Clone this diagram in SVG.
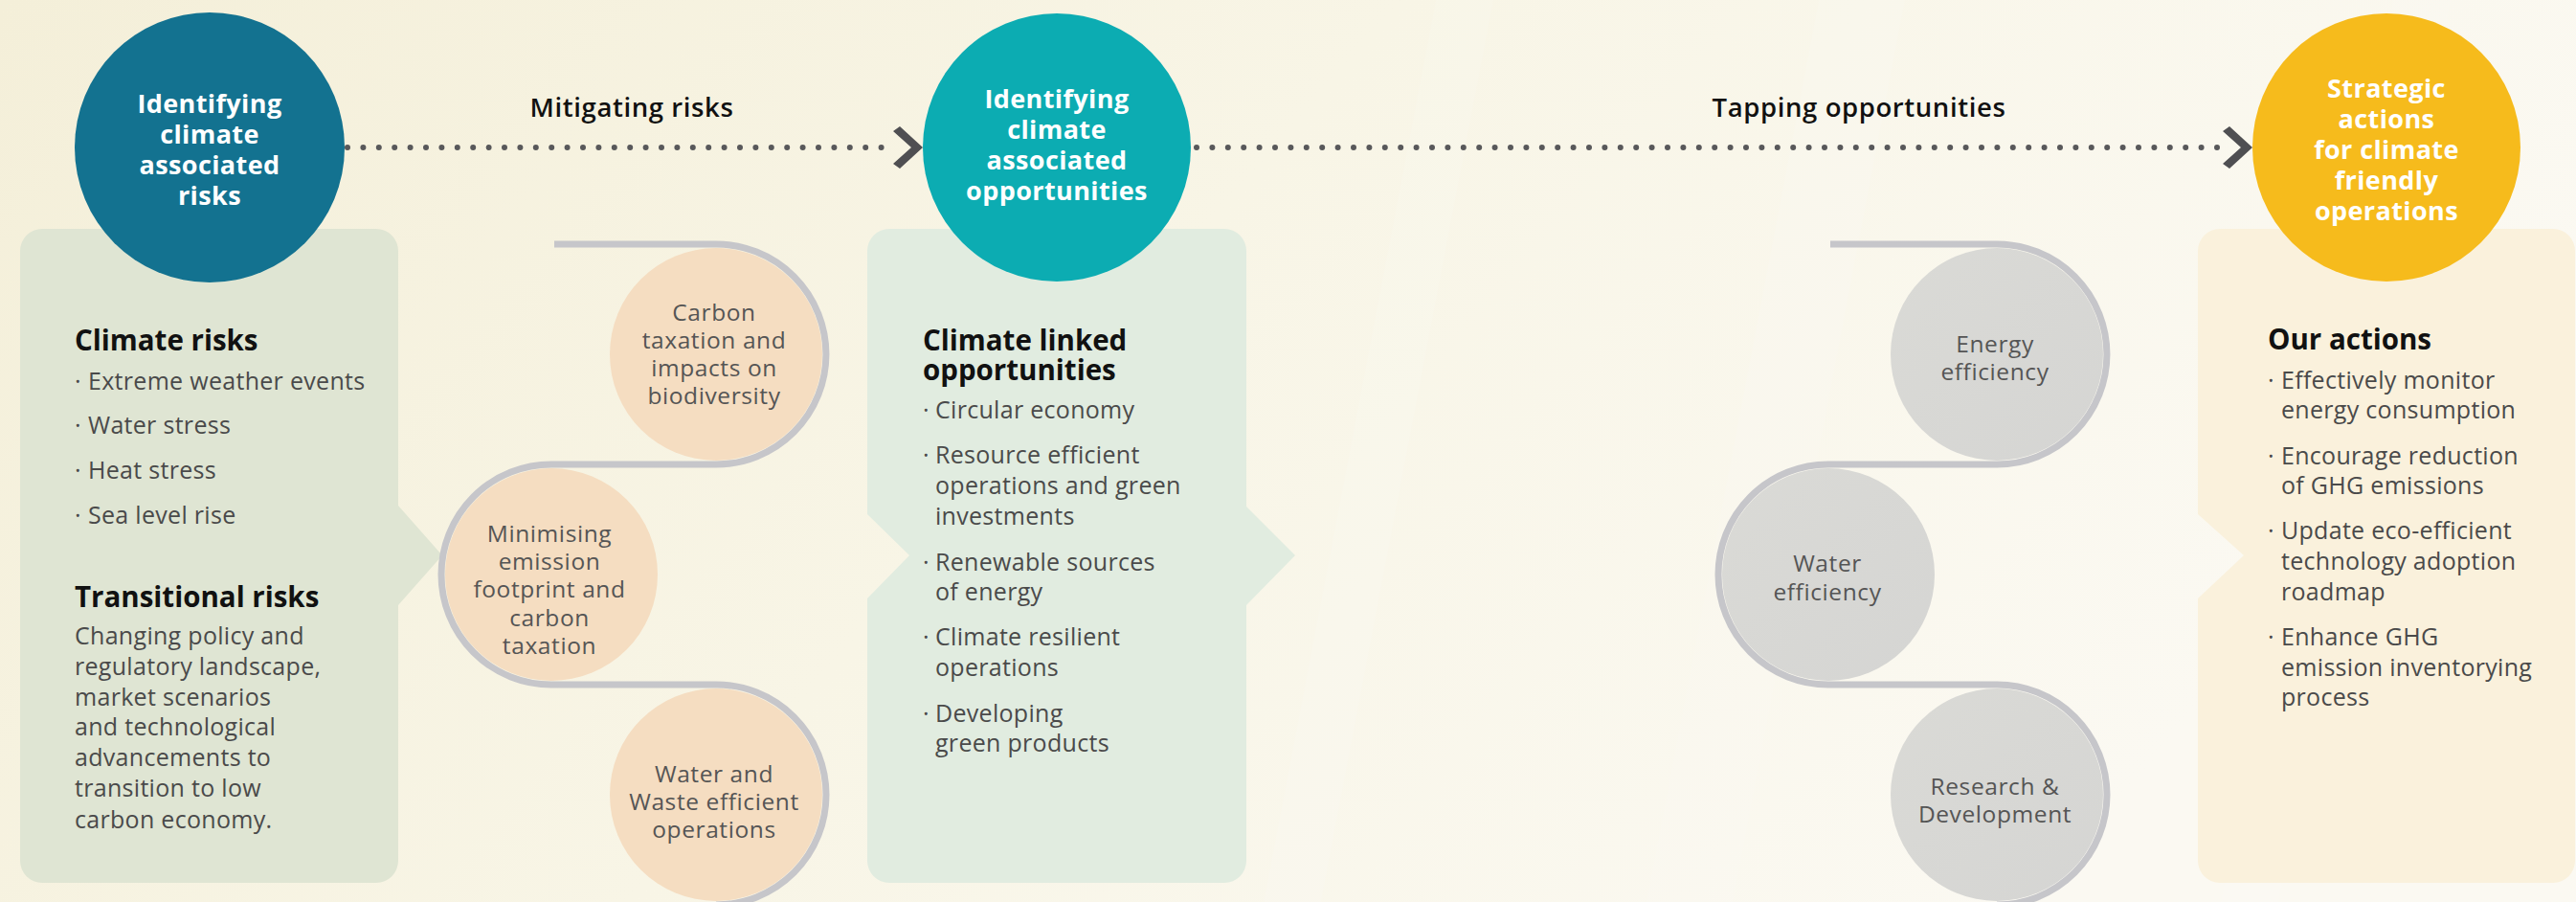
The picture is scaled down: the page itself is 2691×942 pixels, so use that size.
<svg xmlns="http://www.w3.org/2000/svg" width="2691" height="942" viewBox="0 0 2691 942">
<defs>
<linearGradient id="bg" x1="0" y1="0" x2="1" y2="0.3">
<stop offset="0" stop-color="#f4efd9"/>
<stop offset="0.5" stop-color="#f8f5e6"/>
<stop offset="1" stop-color="#fbf9f2"/>
</linearGradient>
<linearGradient id="grayfill" x1="0" y1="0" x2="1" y2="1">
<stop offset="0" stop-color="#dadad6"/>
<stop offset="1" stop-color="#d5d5d3"/>
</linearGradient>
<path id="chev" d="M -31 -17 L -24 -22 L 0 0 L -24 22 L -31 17 L -12 0 Z"/>
</defs>
<style>
.body{font-family:"Open Sans","Liberation Sans",sans-serif;font-size:25px;fill:#4a4a4a;letter-spacing:0.3px}
.head{font-family:"Open Sans","Liberation Sans",sans-serif;font-size:29.5px;font-weight:700;fill:#111}
.ctitle{font-family:"Open Sans","Liberation Sans",sans-serif;font-size:27px;font-weight:700;fill:#ffffff;text-anchor:middle;letter-spacing:0.4px}
.ctext{font-family:"Open Sans","Liberation Sans",sans-serif;font-size:24.5px;fill:#555555;text-anchor:middle;letter-spacing:0.6px}
.label{font-family:"Open Sans","Liberation Sans",sans-serif;font-size:27.5px;font-weight:600;fill:#111;text-anchor:middle;letter-spacing:0.6px}
.track{fill:none;stroke:#c6c6ca;stroke-width:7}
.peach{fill:#f5ddc1}
.gray{fill:url(#grayfill)}
.dots{stroke:#58585a;stroke-width:6;stroke-linecap:round;stroke-dasharray:0 16.4;fill:none}
.chev{fill:#4f4f52}
</style>
<rect x="0" y="0" width="2691" height="942" fill="url(#bg)"/>
<g opacity="0.1" fill="#ffffff">
<polygon points="1500,0 1560,0 1380,942 1320,942"/>
<polygon points="1900,0 1990,0 1810,942 1720,942"/>
<polygon points="2500,0 2560,0 2380,942 2320,942"/>
</g>

<g id="box-risks">
<path d="M 44 239 H 393 A 23 23 0 0 1 416 262 V 528 L 462 580 L 416 632 V 899 A 23 23 0 0 1 393 922 H 44 A 23 23 0 0 1 21 899 V 262 A 23 23 0 0 1 44 239 Z" fill="#dfe5d3"/>
<text class="head" x="78" y="366">Climate risks</text>
<text class="body" y="407"><tspan x="78">·</tspan><tspan x="92">Extreme weather events</tspan></text>
<text class="body" y="453"><tspan x="78">·</tspan><tspan x="92">Water stress</tspan></text>
<text class="body" y="500"><tspan x="78">·</tspan><tspan x="92">Heat stress</tspan></text>
<text class="body" y="547"><tspan x="78">·</tspan><tspan x="92">Sea level rise</tspan></text>
<text class="head" x="78" y="634">Transitional risks</text>
<text class="body">
<tspan x="78" y="673">Changing policy and</tspan>
<tspan x="78" y="705">regulatory landscape,</tspan>
<tspan x="78" y="737">market scenarios</tspan>
<tspan x="78" y="768">and technological</tspan>
<tspan x="78" y="800">advancements to</tspan>
<tspan x="78" y="832">transition to low</tspan>
<tspan x="78" y="865">carbon economy.</tspan>
</text>
</g>

<g id="box-opportunities">
<path d="M 929 239 H 1279 A 23 23 0 0 1 1302 262 V 529 L 1353 580 L 1302 632 V 899 A 23 23 0 0 1 1279 922 H 929 A 23 23 0 0 1 906 899 V 625 L 950 580 L 906 537 V 262 A 23 23 0 0 1 929 239 Z" fill="#e1ece0"/>
<text class="head"><tspan x="964" y="366">Climate linked</tspan><tspan x="964" y="397">opportunities</tspan></text>
<text class="body" y="437"><tspan x="964">·</tspan><tspan x="977">Circular economy</tspan></text>
<text class="body"><tspan x="964" y="484">·</tspan><tspan x="977" y="484">Resource efficient</tspan><tspan x="977" y="516">operations and green</tspan><tspan x="977" y="548">investments</tspan></text>
<text class="body"><tspan x="964" y="596">·</tspan><tspan x="977" y="596">Renewable sources</tspan><tspan x="977" y="627">of energy</tspan></text>
<text class="body"><tspan x="964" y="674">·</tspan><tspan x="977" y="674">Climate resilient</tspan><tspan x="977" y="706">operations</tspan></text>
<text class="body"><tspan x="964" y="754">·</tspan><tspan x="977" y="754">Developing</tspan><tspan x="977" y="785">green products</tspan></text>
</g>

<g id="box-actions">
<path d="M 2319 239 H 2667 A 23 23 0 0 1 2690 262 V 899 A 23 23 0 0 1 2667 922 H 2319 A 23 23 0 0 1 2296 899 V 625 L 2344 580 L 2296 537 V 262 A 23 23 0 0 1 2319 239 Z" fill="#faf1dc"/>
<text class="head" x="2369" y="365">Our actions</text>
<text class="body"><tspan x="2369" y="406">·</tspan><tspan x="2383" y="406">Effectively monitor</tspan><tspan x="2383" y="437">energy consumption</tspan></text>
<text class="body"><tspan x="2369" y="485">·</tspan><tspan x="2383" y="485">Encourage reduction</tspan><tspan x="2383" y="516">of GHG emissions</tspan></text>
<text class="body"><tspan x="2369" y="563">·</tspan><tspan x="2383" y="563">Update eco-efficient</tspan><tspan x="2383" y="595">technology adoption</tspan><tspan x="2383" y="627">roadmap</tspan></text>
<text class="body"><tspan x="2369" y="674">·</tspan><tspan x="2383" y="674">Enhance GHG</tspan><tspan x="2383" y="706">emission inventorying</tspan><tspan x="2383" y="737">process</tspan></text>
</g>

<g id="connectors">
<line class="dots" x1="363" y1="154" x2="928" y2="154"/>
<use href="#chev" class="chev" transform="translate(964,154)"/>
<line class="dots" x1="1250" y1="154" x2="2322" y2="154"/>
<use href="#chev" class="chev" transform="translate(2353,154)"/>
<text class="label" x="660" y="122">Mitigating risks</text>
<text class="label" x="1942" y="122">Tapping opportunities</text>
<path class="track" d="M 579 255 H 748 A 115 115 0 0 1 748 485 H 576 A 115 115 0 0 0 576 715 H 748 A 115 115 0 0 1 748 945"/>
<path class="track" d="M 1912 255 H 2086 A 115 115 0 0 1 2086 485 H 1910 A 115 115 0 0 0 1910 715 H 2086 A 115 115 0 0 1 2086 945"/>
</g>

<g id="node-risks">
<circle cx="219" cy="154" r="141" fill="#137290"/>
<text class="ctitle"><tspan x="219" y="118">Identifying</tspan><tspan x="219" y="150">climate</tspan><tspan x="219" y="182">associated</tspan><tspan x="219" y="214">risks</tspan></text>
</g>
<g id="node-opportunities">
<circle cx="1104" cy="154" r="140" fill="#0cacb2"/>
<text class="ctitle"><tspan x="1104" y="113">Identifying</tspan><tspan x="1104" y="145">climate</tspan><tspan x="1104" y="177">associated</tspan><tspan x="1104" y="209">opportunities</tspan></text>
</g>
<g id="node-actions">
<circle cx="2493" cy="154" r="140" fill="#f6bb1c"/>
<text class="ctitle"><tspan x="2493" y="102">Strategic</tspan><tspan x="2493" y="134">actions</tspan><tspan x="2493" y="166">for climate</tspan><tspan x="2493" y="198">friendly</tspan><tspan x="2493" y="230">operations</tspan></text>
</g>

<g id="node-carbon-taxation">
<circle class="peach" cx="748" cy="370" r="111"/>
<text class="ctext"><tspan x="746" y="335">Carbon</tspan><tspan x="746" y="364">taxation and</tspan><tspan x="746" y="393">impacts on</tspan><tspan x="746" y="422">biodiversity</tspan></text>
</g>
<g id="node-minimising-emission">
<circle class="peach" cx="576" cy="600" r="111"/>
<text class="ctext"><tspan x="574" y="566">Minimising</tspan><tspan x="574" y="595">emission</tspan><tspan x="574" y="624">footprint and</tspan><tspan x="574" y="654">carbon</tspan><tspan x="574" y="683">taxation</tspan></text>
</g>
<g id="node-water-waste">
<circle class="peach" cx="748" cy="830" r="111"/>
<text class="ctext"><tspan x="746" y="817">Water and</tspan><tspan x="746" y="846">Waste efficient</tspan><tspan x="746" y="875">operations</tspan></text>
</g>

<g id="node-energy-efficiency">
<circle class="gray" cx="2086" cy="370" r="111"/>
<text class="ctext"><tspan x="2084" y="368">Energy</tspan><tspan x="2084" y="397">efficiency</tspan></text>
</g>
<g id="node-water-efficiency">
<circle class="gray" cx="1910" cy="600" r="111"/>
<text class="ctext"><tspan x="1909" y="597">Water</tspan><tspan x="1909" y="627">efficiency</tspan></text>
</g>
<g id="node-research-development">
<circle class="gray" cx="2086" cy="830" r="111"/>
<text class="ctext"><tspan x="2084" y="830">Research &amp;</tspan><tspan x="2084" y="859">Development</tspan></text>
</g>
</svg>
